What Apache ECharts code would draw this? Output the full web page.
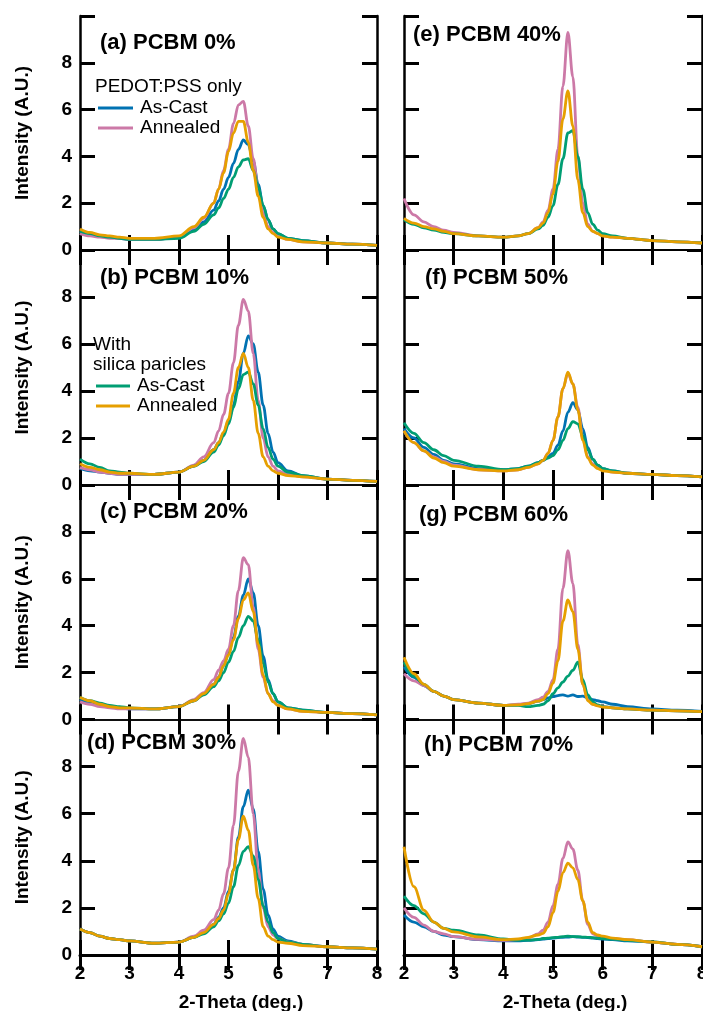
<!DOCTYPE html>
<html>
<head>
<meta charset="utf-8">
<script src="https://cdn.jsdelivr.net/npm/echarts@6/dist/echarts.min.js"></script>
<style>
  html, body { margin: 0; padding: 0; background: #fff; }
  #xrd-chart { width: 703px; height: 1011px; }
</style>
</head>
<body>
<div id="xrd-chart"></div>
<script>
// 2-theta positions (deg.) shared by every curve
var xs = [2.0, 2.2, 2.4, 2.6, 2.8, 3.0, 3.5, 4.0, 4.3, 4.5, 4.7, 4.8, 4.9, 5.0, 5.1, 5.2, 5.3, 5.4, 5.5, 5.6, 5.7, 5.8, 5.9, 6.0, 6.2, 6.5, 7.0, 7.5, 8.0];

// (a) PCBM 0%
var aPedotCast    = [0.8, 0.7, 0.6, 0.55, 0.5, 0.45, 0.45, 0.55, 0.85, 1.2, 1.7, 2.1, 2.6, 3.1, 3.7, 4.3, 4.7, 4.5, 3.8, 2.8, 1.9, 1.3, 0.9, 0.7, 0.5, 0.4, 0.3, 0.25, 0.2];
var aPedotAnneal  = [0.7, 0.6, 0.55, 0.5, 0.5, 0.45, 0.45, 0.55, 0.95, 1.35, 2.0, 2.6, 3.4, 4.3, 5.4, 6.2, 6.35, 5.3, 3.9, 2.6, 1.6, 1.0, 0.75, 0.6, 0.45, 0.35, 0.3, 0.25, 0.2];
var aSilicaCast   = [0.8, 0.7, 0.6, 0.55, 0.5, 0.45, 0.45, 0.5, 0.8, 1.1, 1.5, 1.8, 2.2, 2.6, 3.1, 3.55, 3.85, 3.9, 3.4, 2.7, 1.9, 1.3, 0.9, 0.7, 0.5, 0.4, 0.3, 0.25, 0.2];
var aSilicaAnneal = [0.9, 0.75, 0.65, 0.6, 0.55, 0.5, 0.5, 0.6, 1.0, 1.4, 2.0, 2.6, 3.3, 4.2, 5.0, 5.5, 5.5, 4.6, 3.4, 2.3, 1.4, 0.9, 0.7, 0.55, 0.45, 0.35, 0.3, 0.25, 0.2];

// (b) PCBM 10%
var bPedotCast    = [0.7, 0.6, 0.55, 0.5, 0.45, 0.45, 0.45, 0.55, 0.8, 1.05, 1.5, 1.8, 2.2, 2.7, 3.4, 4.4, 5.6, 6.35, 6.0, 4.8, 3.4, 2.2, 1.4, 0.95, 0.6, 0.4, 0.25, 0.2, 0.15];
var bPedotAnneal  = [0.75, 0.65, 0.55, 0.5, 0.45, 0.45, 0.45, 0.55, 0.85, 1.2, 1.8, 2.3, 3.0, 3.9, 5.2, 6.8, 7.9, 7.4, 5.6, 3.6, 2.0, 1.2, 0.8, 0.6, 0.45, 0.35, 0.25, 0.2, 0.15];
var bSilicaCast   = [1.1, 0.9, 0.75, 0.6, 0.55, 0.5, 0.45, 0.55, 0.8, 1.0, 1.4, 1.7, 2.1, 2.6, 3.3, 4.1, 4.7, 4.8, 4.3, 3.4, 2.4, 1.6, 1.1, 0.8, 0.55, 0.4, 0.25, 0.2, 0.15];
var bSilicaAnneal = [0.9, 0.75, 0.65, 0.55, 0.5, 0.5, 0.45, 0.55, 0.8, 1.05, 1.5, 1.8, 2.25, 2.8, 3.9, 5.0, 5.6, 5.0, 3.6, 2.2, 1.2, 0.8, 0.6, 0.5, 0.4, 0.35, 0.25, 0.2, 0.15];

// (c) PCBM 20%
var cPedotCast    = [0.85, 0.7, 0.6, 0.55, 0.5, 0.45, 0.45, 0.55, 0.8, 1.1, 1.5, 1.8, 2.3, 2.8, 3.5, 4.4, 5.3, 6.0, 5.4, 4.0, 2.7, 1.7, 1.1, 0.75, 0.5, 0.4, 0.3, 0.25, 0.2];
var cPedotAnneal  = [0.75, 0.65, 0.55, 0.5, 0.45, 0.45, 0.45, 0.55, 0.85, 1.15, 1.7, 2.1, 2.5, 3.0, 4.0, 5.5, 6.9, 6.6, 4.8, 3.0, 1.8, 1.1, 0.8, 0.6, 0.45, 0.35, 0.3, 0.25, 0.2];
var cSilicaCast   = [0.95, 0.8, 0.7, 0.6, 0.55, 0.5, 0.45, 0.55, 0.8, 1.05, 1.4, 1.65, 2.0, 2.45, 2.9, 3.5, 4.0, 4.4, 4.2, 3.4, 2.4, 1.6, 1.1, 0.75, 0.5, 0.4, 0.3, 0.25, 0.2];
var cSilicaAnneal = [0.95, 0.8, 0.65, 0.55, 0.5, 0.5, 0.45, 0.55, 0.8, 1.1, 1.5, 1.8, 2.3, 2.75, 3.4, 4.3, 5.1, 5.4, 4.6, 3.2, 1.9, 1.1, 0.75, 0.6, 0.45, 0.35, 0.3, 0.25, 0.2];

// (d) PCBM 30%
var dPedotCast    = [1.1, 0.95, 0.8, 0.7, 0.65, 0.6, 0.5, 0.55, 0.75, 0.95, 1.3, 1.6, 2.0, 2.7, 3.6, 5.0, 6.3, 7.0, 6.2, 4.4, 2.8, 1.7, 1.1, 0.8, 0.6, 0.45, 0.35, 0.3, 0.25];
var dPedotAnneal  = [1.1, 0.95, 0.8, 0.7, 0.65, 0.6, 0.5, 0.55, 0.8, 1.05, 1.5, 1.9, 2.6, 3.7, 5.5, 7.8, 9.2, 8.4, 6.0, 3.6, 2.0, 1.2, 0.85, 0.7, 0.55, 0.45, 0.35, 0.3, 0.25];
var dSilicaCast   = [1.1, 0.95, 0.8, 0.7, 0.65, 0.6, 0.5, 0.55, 0.75, 0.9, 1.2, 1.45, 1.75, 2.2, 2.9, 3.8, 4.4, 4.6, 4.2, 3.2, 2.1, 1.4, 0.95, 0.7, 0.55, 0.45, 0.35, 0.3, 0.25];
var dSilicaAnneal = [1.1, 0.95, 0.8, 0.7, 0.65, 0.6, 0.5, 0.55, 0.75, 0.95, 1.3, 1.55, 1.9, 2.6, 3.6, 4.9, 5.9, 5.3, 3.8, 2.4, 1.2, 0.8, 0.65, 0.55, 0.5, 0.4, 0.35, 0.3, 0.25];

// (e) PCBM 40%  (no PEDOT:PSS as-cast curve visible)
var ePedotAnneal  = [2.2, 1.5, 1.2, 1.0, 0.85, 0.75, 0.6, 0.55, 0.6, 0.7, 0.95, 1.2, 1.7, 2.6, 4.3, 7.0, 9.3, 7.4, 4.0, 2.0, 1.1, 0.8, 0.7, 0.6, 0.55, 0.5, 0.4, 0.35, 0.3];
var eSilicaCast   = [1.3, 1.1, 0.95, 0.85, 0.75, 0.7, 0.6, 0.55, 0.6, 0.7, 0.9, 1.05, 1.4, 1.9, 2.8, 3.9, 5.0, 5.1, 4.0, 2.6, 1.6, 1.1, 0.85, 0.7, 0.6, 0.5, 0.4, 0.35, 0.3];
var eSilicaAnneal = [1.35, 1.15, 1.0, 0.9, 0.8, 0.7, 0.6, 0.55, 0.6, 0.7, 0.95, 1.15, 1.6, 2.4, 3.8, 5.6, 6.8, 5.3, 3.0, 1.6, 1.0, 0.8, 0.7, 0.6, 0.55, 0.5, 0.4, 0.35, 0.3];

// (f) PCBM 50%
var fPedotCast    = [2.4, 2.0, 1.6, 1.3, 1.05, 0.9, 0.7, 0.65, 0.7, 0.8, 0.95, 1.05, 1.2, 1.35, 1.7, 2.3, 3.1, 3.5, 3.2, 2.4, 1.6, 1.1, 0.85, 0.7, 0.6, 0.5, 0.45, 0.4, 0.35];
var fPedotAnneal  = [2.3, 1.8, 1.45, 1.2, 1.0, 0.85, 0.65, 0.6, 0.65, 0.75, 0.9, 1.05, 1.35, 1.9, 2.9, 4.1, 4.75, 4.3, 3.3, 2.0, 1.2, 0.9, 0.75, 0.65, 0.55, 0.5, 0.45, 0.4, 0.35];
var fSilicaCast   = [2.65, 2.2, 1.8, 1.5, 1.25, 1.05, 0.8, 0.65, 0.7, 0.8, 0.95, 1.05, 1.15, 1.25, 1.5, 1.9, 2.4, 2.7, 2.6, 2.1, 1.5, 1.1, 0.85, 0.7, 0.6, 0.5, 0.45, 0.4, 0.35];
var fSilicaAnneal = [2.3, 1.8, 1.45, 1.15, 0.95, 0.8, 0.65, 0.6, 0.65, 0.75, 0.9, 1.05, 1.35, 1.9, 2.9, 4.1, 4.8, 4.3, 3.2, 1.9, 1.15, 0.85, 0.7, 0.6, 0.55, 0.5, 0.45, 0.4, 0.35];

// (g) PCBM 60%
var gPedotCast    = [2.25, 1.8, 1.45, 1.2, 1.0, 0.85, 0.7, 0.6, 0.62, 0.68, 0.78, 0.85, 0.92, 0.98, 1.02, 1.05, 1.0, 1.05, 0.98, 1.0, 0.92, 0.85, 0.8, 0.75, 0.65, 0.55, 0.45, 0.4, 0.35];
var gPedotAnneal  = [1.95, 1.65, 1.45, 1.2, 1.0, 0.85, 0.7, 0.6, 0.65, 0.7, 0.85, 0.95, 1.2, 1.7, 3.0, 5.6, 7.2, 5.8, 3.2, 1.5, 0.85, 0.65, 0.6, 0.55, 0.5, 0.45, 0.4, 0.37, 0.34];
var gSilicaCast   = [2.45, 1.85, 1.5, 1.2, 1.0, 0.85, 0.7, 0.6, 0.6, 0.55, 0.6, 0.65, 0.8, 1.1, 1.35, 1.6, 1.85, 2.1, 2.45, 1.7, 1.05, 0.75, 0.62, 0.55, 0.5, 0.45, 0.4, 0.37, 0.34];
var gSilicaAnneal = [2.65, 1.95, 1.5, 1.2, 1.0, 0.85, 0.7, 0.6, 0.62, 0.68, 0.78, 0.85, 1.1, 1.55, 2.5, 4.2, 5.1, 4.6, 3.0, 1.5, 0.8, 0.65, 0.58, 0.53, 0.5, 0.45, 0.4, 0.37, 0.34];

// (h) PCBM 70%
var hPedotCast    = [1.7, 1.4, 1.2, 1.0, 0.85, 0.78, 0.65, 0.6, 0.6, 0.62, 0.65, 0.68, 0.7, 0.72, 0.74, 0.75, 0.76, 0.78, 0.76, 0.75, 0.74, 0.72, 0.7, 0.68, 0.65, 0.6, 0.55, 0.45, 0.35];
var hPedotAnneal  = [2.0, 1.6, 1.27, 1.0, 0.9, 0.78, 0.66, 0.62, 0.65, 0.72, 0.9, 1.05, 1.4, 2.1, 3.0, 4.1, 4.8, 4.5, 3.6, 2.3, 1.3, 0.9, 0.8, 0.75, 0.7, 0.65, 0.55, 0.45, 0.35];
var hSilicaCast   = [2.5, 2.1, 1.75, 1.4, 1.13, 1.05, 0.85, 0.68, 0.63, 0.63, 0.66, 0.7, 0.72, 0.74, 0.75, 0.78, 0.8, 0.78, 0.78, 0.76, 0.75, 0.74, 0.72, 0.7, 0.68, 0.62, 0.56, 0.45, 0.35];
var hSilicaAnneal = [4.6, 2.9, 1.9, 1.4, 1.13, 0.98, 0.77, 0.65, 0.68, 0.75, 0.85, 0.92, 1.2, 1.8, 2.7, 3.5, 3.9, 3.7, 3.2, 2.3, 1.4, 0.95, 0.85, 0.8, 0.72, 0.65, 0.55, 0.45, 0.35];

var yTicks = [0, 2, 4, 6, 8];
var xTicks = [2, 3, 4, 5, 6, 7, 8];

// colours: PEDOT:PSS as-cast, PEDOT:PSS annealed, silica as-cast, silica annealed
var colors = ['#0072B2', '#CC79A7', '#009E73', '#E69F00'];
var fontFam = '"Liberation Sans", Arial, sans-serif';

var panels = [
    { title: '(a) PCBM 0%',  col: 0, row: 0, tx: 100, ty: 43,  curves: [aPedotCast, aPedotAnneal, aSilicaCast, aSilicaAnneal] },
    { title: '(b) PCBM 10%', col: 0, row: 1, tx: 100, ty: 278, curves: [bPedotCast, bPedotAnneal, bSilicaCast, bSilicaAnneal] },
    { title: '(c) PCBM 20%', col: 0, row: 2, tx: 100, ty: 512, curves: [cPedotCast, cPedotAnneal, cSilicaCast, cSilicaAnneal] },
    { title: '(d) PCBM 30%', col: 0, row: 3, tx: 87,  ty: 743, curves: [dPedotCast, dPedotAnneal, dSilicaCast, dSilicaAnneal] },
    { title: '(e) PCBM 40%', col: 1, row: 0, tx: 413, ty: 35,  curves: [null, ePedotAnneal, eSilicaCast, eSilicaAnneal] },
    { title: '(f) PCBM 50%', col: 1, row: 1, tx: 425, ty: 278, curves: [fPedotCast, fPedotAnneal, fSilicaCast, fSilicaAnneal] },
    { title: '(g) PCBM 60%', col: 1, row: 2, tx: 419, ty: 515, curves: [gPedotCast, gPedotAnneal, gSilicaCast, gSilicaAnneal] },
    { title: '(h) PCBM 70%', col: 1, row: 3, tx: 424, ty: 745, curves: [hPedotCast, hPedotAnneal, hSilicaCast, hSilicaAnneal] }
];

var colLeft = [80, 404];
var colWidth = [297, 298];
var rowTop = [16, 250, 485, 719.5];
var rowHeight = [234, 235, 234.5, 235.5];

var grid = [], xAxis = [], yAxis = [], series = [], graphic = [];

function tickStyle() {
    return { show: true, inside: true, length: 15, lineStyle: { color: '#000', width: 3 } };
}

panels.forEach(function (p, i) {
    var bottomRow = p.row === 3;
    grid.push({
        left: colLeft[p.col], top: rowTop[p.row], width: colWidth[p.col], height: rowHeight[p.row],
        containLabel: false, outerBoundsMode: 'none'
    });

    // bottom x axis
    xAxis.push({
        type: 'value', gridIndex: i, min: 2, max: 8, interval: 1, position: 'bottom',
        axisLine: { lineStyle: { color: '#000', width: bottomRow ? 3 : 1.5 } },
        axisTick: tickStyle(),
        axisLabel: {
            show: bottomRow, margin: 9, color: '#000', fontWeight: 'bold', fontSize: 19, fontFamily: fontFam,
            formatter: function (v) { return xTicks.indexOf(v) >= 0 ? String(v) : ''; }
        },
        splitLine: { show: false }
    });
    // top x axis (ticks only)
    xAxis.push({
        type: 'value', gridIndex: i, min: 2, max: 8, interval: 1, position: 'top',
        axisLine: { lineStyle: { color: '#000', width: p.row === 0 ? 2 : 1.5 } },
        axisTick: tickStyle(), axisLabel: { show: false }, splitLine: { show: false }
    });
    // left y axis
    yAxis.push({
        type: 'value', gridIndex: i, min: 0, max: 10, interval: 2, position: 'left',
        name: p.col === 0 ? 'Intensity (A.U.)' : '', nameLocation: 'middle', nameGap: 48,
        nameTextStyle: { color: '#000', fontWeight: 'bold', fontSize: 19, fontFamily: fontFam },
        axisLine: { show: true, lineStyle: { color: '#000', width: 2.5 } },
        axisTick: tickStyle(),
        axisLabel: {
            show: p.col === 0, margin: 8, color: '#000', fontWeight: 'bold', fontSize: 19, fontFamily: fontFam,
            formatter: function (v) { return yTicks.indexOf(v) >= 0 ? String(v) : ''; }
        },
        splitLine: { show: false }
    });
    // right y axis (ticks only)
    yAxis.push({
        type: 'value', gridIndex: i, min: 0, max: 10, interval: 2, position: 'right',
        axisLine: { show: true, lineStyle: { color: '#000', width: 2.5 } },
        axisTick: tickStyle(), axisLabel: { show: false }, splitLine: { show: false }
    });

    p.curves.forEach(function (vals, k) {
        if (!vals) return;
        series.push({
            type: 'line', xAxisIndex: 2 * i, yAxisIndex: 2 * i,
            data: xs.map(function (x, j) { return [x, vals[j]]; }),
            symbol: 'none', smooth: 0.35, smoothMonotone: 'x',
            lineStyle: { color: colors[k], width: 2.8 },
            z: 2 + k, silent: true
        });
    });

    graphic.push({
        type: 'text', x: p.tx, y: p.ty,
        style: { text: p.title, fill: '#000', font: 'bold 22px ' + fontFam, verticalAlign: 'middle' }
    });
});

// legend annotations drawn inside panels (a) and (b)
var normalFont = '19px ' + fontFam;
graphic.push(
    { type: 'text', x: 95, y: 87, style: { text: 'PEDOT:PSS only', fill: '#000', font: normalFont, verticalAlign: 'middle' } },
    { type: 'line', shape: { x1: 98, y1: 108, x2: 133, y2: 108 }, style: { stroke: colors[0], lineWidth: 3 } },
    { type: 'text', x: 140, y: 108, style: { text: 'As-Cast', fill: '#000', font: normalFont, verticalAlign: 'middle' } },
    { type: 'line', shape: { x1: 98, y1: 128, x2: 133, y2: 128 }, style: { stroke: colors[1], lineWidth: 3 } },
    { type: 'text', x: 140, y: 128, style: { text: 'Annealed', fill: '#000', font: normalFont, verticalAlign: 'middle' } },

    { type: 'text', x: 93, y: 345, style: { text: 'With', fill: '#000', font: normalFont, verticalAlign: 'middle' } },
    { type: 'text', x: 93, y: 365, style: { text: 'silica paricles', fill: '#000', font: normalFont, verticalAlign: 'middle' } },
    { type: 'line', shape: { x1: 96, y1: 386, x2: 130, y2: 386 }, style: { stroke: colors[2], lineWidth: 3 } },
    { type: 'text', x: 137, y: 386, style: { text: 'As-Cast', fill: '#000', font: normalFont, verticalAlign: 'middle' } },
    { type: 'line', shape: { x1: 96, y1: 406, x2: 130, y2: 406 }, style: { stroke: colors[3], lineWidth: 3 } },
    { type: 'text', x: 137, y: 406, style: { text: 'Annealed', fill: '#000', font: normalFont, verticalAlign: 'middle' } },

    { type: 'text', x: 241, y: 1003, style: { text: '2-Theta (deg.)', fill: '#000', font: 'bold 19px ' + fontFam, align: 'center', verticalAlign: 'middle' } },
    { type: 'text', x: 565, y: 1003, style: { text: '2-Theta (deg.)', fill: '#000', font: 'bold 19px ' + fontFam, align: 'center', verticalAlign: 'middle' } }
);

var option = {
    animation: false,
    backgroundColor: '#fff',
    grid: grid,
    xAxis: xAxis,
    yAxis: yAxis,
    series: series,
    graphic: graphic
};

var xrdChart = echarts.init(document.getElementById('xrd-chart'));
xrdChart.setOption(option);
</script>
</body>
</html>
